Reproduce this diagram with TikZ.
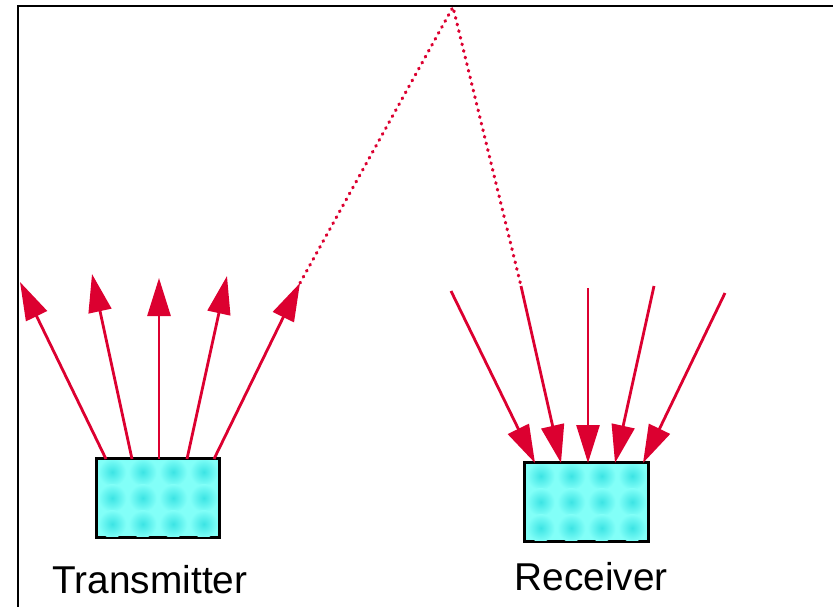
\documentclass[tikz,border=0pt]{standalone}
\usepackage{fontspec}
\setmainfont{Liberation Sans}
\usetikzlibrary{arrows.meta}
\definecolor{ray}{RGB}{220,0,48}
\definecolor{boxbase}{RGB}{130,255,248}
\definecolor{boxspot}{RGB}{60,228,228}
\tikzset{
  rayarrow/.style={draw=ray, line width=2.8pt, -{Triangle[length=38pt,width=23pt]}},
  raydots/.style={draw=ray, line width=3.2pt, line cap=round, dash pattern=on 0.8pt off 6pt},
  device/.style={draw=black, line width=1.8pt, fill=boxbase, rectangle, inner sep=0pt},
  label/.style={font=\fontsize{38.8}{40}\selectfont, anchor=base, inner sep=0pt},
  frameline/.style={draw=black, line width=2.4pt}
}
\begin{document}
\begin{tikzpicture}[x=1pt,y=-1pt]
\useasboundingbox (0,0) rectangle (833,607);
% frame
\coordinate (fTL) at (18,6);
\coordinate (fTR) at (833,6);
\coordinate (fBL) at (18,607);
\draw[frameline] (fTR) -- (fTL) -- (fBL);

% boxes
\node[device, minimum width=122pt, minimum height=78pt] (tx) at (158,498) {};
\node[device, minimum width=123pt, minimum height=78pt] (rx) at (586.5,502) {};

% texture spots
\foreach \b/\cx/\cy in {tx/158/498, rx/586.5/502}{
  \begin{scope}
    \clip (\cx-60,\cy-38) rectangle (\cx+60,\cy+38);
    \foreach \i in {0,...,3}{
      \foreach \j in {0,...,2}{
        \shade[inner color=boxspot, outer color=boxbase]
          (\cx-45.75+30.5*\i, \cy-26+26*\j) circle (14);
      }
    }
  \end{scope}
  \draw[black, line width=1.8pt] (\b.south west) rectangle (\b.north east);
}

% labels
\node[label] (txl) at (150,593) {Transmitter};
\node[label] (rxl) at (591,590) {Receiver};

% transmitter rays
\coordinate (t1s) at (106,459); \coordinate (t1e) at (20,282);
\coordinate (t2s) at (132,459); \coordinate (t2e) at (92,274);
\coordinate (t3s) at (159,459); \coordinate (t3e) at (159,278);
\coordinate (t4s) at (187,459); \coordinate (t4e) at (227,276);
\coordinate (t5s) at (214,459); \coordinate (t5e) at (300,283);
\foreach \k in {1,...,5}{ \draw[rayarrow] (t\k s) -- (t\k e); }

% reflected path
\coordinate (apex) at (453,7);
\coordinate (r2s) at (521,286);
\draw[raydots] (t5e) -- (apex) -- (r2s);

% receiver rays
\coordinate (r1s) at (451,291); \coordinate (r1e) at (535,463);
\coordinate (r2e) at (561,463);
\coordinate (r3s) at (588,288); \coordinate (r3e) at (588,463);
\coordinate (r4s) at (654,286); \coordinate (r4e) at (615,463);
\coordinate (r5s) at (725,293); \coordinate (r5e) at (643,463);
\foreach \k in {1,...,5}{ \draw[rayarrow] (r\k s) -- (r\k e); }
\end{tikzpicture}
\end{document}
